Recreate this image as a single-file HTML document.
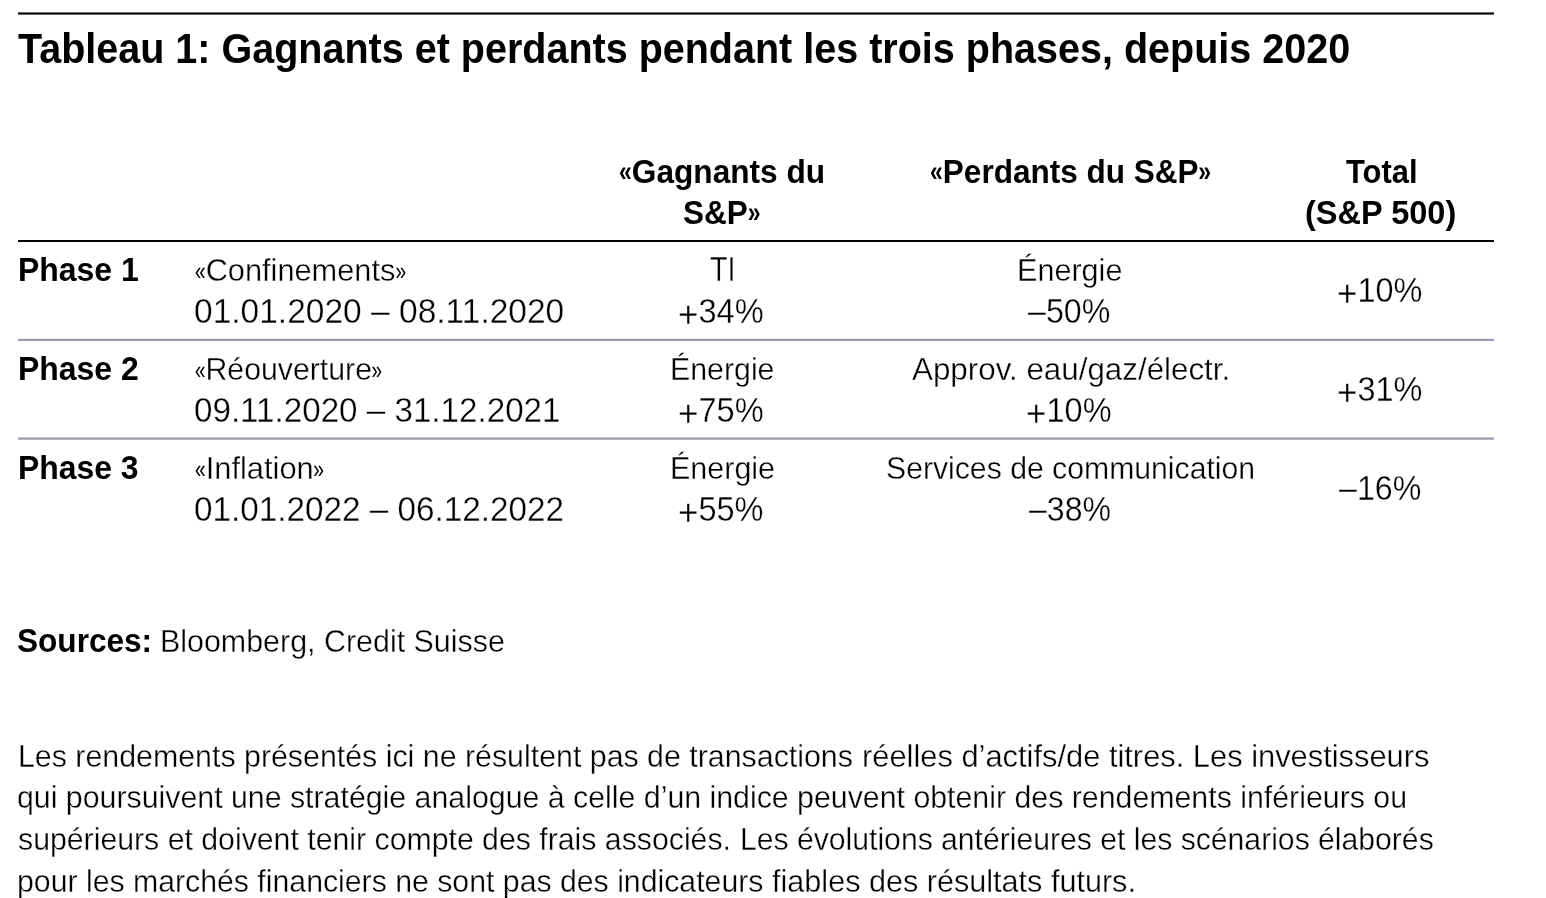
<!DOCTYPE html>
<html lang="fr">
<head>
<meta charset="utf-8">
<title>Tableau 1: Gagnants et perdants pendant les trois phases, depuis 2020</title>
<style>
html,body{margin:0;padding:0;background:#fff;}
body{width:1546px;height:898px;position:relative;overflow:hidden;font-family:"Liberation Sans",Arial,Helvetica,sans-serif;color:#000;}
.t{position:absolute;margin:0;padding:0;white-space:nowrap;line-height:1;font-weight:400;transform-origin:0 0;-webkit-text-stroke:0.35px #fff;}
.b,.t b{font-weight:700;-webkit-text-stroke:0;}
.g,.gb{display:inline-block;position:relative;-webkit-text-stroke:0;}
.g{font-size:.83em;top:-1.2px;transform:scaleX(.75);}
.gb{font-size:.88em;top:-1.7px;transform:scaleX(.83);}
.gl{transform-origin:0 50%;}
.gr{transform-origin:100% 50%;}
.g.gl{margin-right:-.139em;}
.g.gr{margin-left:-.139em;}
.gb.gl{margin-right:-.0945em;}
.gb.gr{margin-left:-.0945em;}
.pl{display:inline-block;position:relative;top:3.5px;font-size:1.08em;line-height:0;}
.rule{position:absolute;margin:0;border:0;padding:0;}
table,thead,tbody,tr,th,td,p{display:block;position:static;margin:0;padding:0;border:0;height:0;font-size:0;line-height:0;}
</style>
</head>
<body>
<hr class="rule" style="left:18px;width:1476px;top:12px;height:3px;background:linear-gradient(to bottom,#737373 0px,#737373 1px,#000 1px,#000 2px,#666666 2px,#666666 3px);">
<hr class="rule" style="left:18px;width:1476px;top:240px;height:2px;background:linear-gradient(to bottom,#000 0px,#000 1px,#000 1px,#000 2px);">
<hr class="rule" style="left:18px;width:1476px;top:338px;height:3px;background:linear-gradient(to bottom,#eaeaee 0px,#eaeaee 1px,#9898a8 1px,#9898a8 2px,#9d9dac 2px,#9d9dac 3px);">
<hr class="rule" style="left:18px;width:1476px;top:437px;height:3px;background:linear-gradient(to bottom,#c6c6cf 0px,#c6c6cf 1px,#9898a8 1px,#9898a8 2px,#b7b7c2 2px,#b7b7c2 3px);">
<h1 id="title" class="t b" style="left:17.55px;top:26.50px;font-size:43px;transform:scaleX(0.9189);">Tableau 1: Gagnants et perdants pendant les trois phases, depuis 2020</h1>
<table>
<thead>
<tr><th></th><th></th><th scope="col"><span id="h1a" class="t b" style="left:619.40px;top:155.00px;font-size:33px;transform:scaleX(0.9580);"><span class="gb gl">«</span>Gagnants du</span> <span id="h1b" class="t b" style="left:682.73px;top:196.00px;font-size:33px;transform:scaleX(0.9548);">S&amp;P<span class="gb gr">»</span></span></th><th scope="col"><span id="h2a" class="t b" style="left:929.95px;top:155.00px;font-size:33px;transform:scaleX(0.9555);"><span class="gb gl">«</span>Perdants du S&amp;P<span class="gb gr">»</span></span></th><th scope="col"><span id="h3a" class="t b" style="left:1345.82px;top:155.00px;font-size:33px;transform:scaleX(0.9370);">Total</span> <span id="h3b" class="t b" style="left:1305.40px;top:196.00px;font-size:33px;transform:scaleX(0.9855);">(S&amp;P 500)</span></th></tr>
</thead>
<tbody>
<tr><th scope="row"><span id="p1" class="t b" style="left:17.86px;top:253.00px;font-size:33px;transform:scaleX(0.9680);">Phase 1</span></th><td><span id="r1a" class="t" style="left:195.10px;top:254.00px;font-size:32px;transform:scaleX(0.9607);"><span class="g gl">«</span>Confinements<span class="g gr">»</span></span> <span id="r1b" class="t" style="left:194.08px;top:293.00px;font-size:35px;transform:scaleX(0.9576);">01.01.2020 – 08.11.2020</span></td><td><span id="r1c" class="t" style="left:710.16px;top:251.00px;font-size:35px;transform:scaleX(0.8222);">TI</span> <span id="r1d" class="t" style="left:678.17px;top:293.00px;font-size:35px;transform:scaleX(0.9294);"><span class="pl">+</span>34%</span></td><td><span id="r1e" class="t" style="left:1017.05px;top:254.00px;font-size:32px;transform:scaleX(0.9555);">Énergie</span> <span id="r1f" class="t" style="left:1028.16px;top:293.00px;font-size:35px;transform:scaleX(0.9190);">–50%</span></td><td><span id="r1g" class="t" style="left:1337.14px;top:272.00px;font-size:35px;transform:scaleX(0.9265);"><span class="pl">+</span>10%</span></td></tr>
<tr><th scope="row"><span id="p2" class="t b" style="left:17.86px;top:352.00px;font-size:33px;transform:scaleX(0.9680);">Phase 2</span></th><td><span id="r2a" class="t" style="left:195.13px;top:353.00px;font-size:32px;transform:scaleX(0.9456);"><span class="g gl">«</span>Réouverture<span class="g gr">»</span></span> <span id="r2b" class="t" style="left:194.32px;top:392.00px;font-size:35px;transform:scaleX(0.9478);">09.11.2020 – 31.12.2021</span></td><td><span id="r2c" class="t" style="left:669.88px;top:353.00px;font-size:32px;transform:scaleX(0.9472);">Énergie</span> <span id="r2d" class="t" style="left:678.17px;top:392.00px;font-size:35px;transform:scaleX(0.9294);"><span class="pl">+</span>75%</span></td><td><span id="r2e" class="t" style="left:912.16px;top:353.00px;font-size:32px;transform:scaleX(0.9794);">Approv. eau/gaz/électr.</span> <span id="r2f" class="t" style="left:1026.26px;top:392.00px;font-size:35px;transform:scaleX(0.9282);"><span class="pl">+</span>10%</span></td><td><span id="r2g" class="t" style="left:1337.14px;top:371.00px;font-size:35px;transform:scaleX(0.9265);"><span class="pl">+</span>31%</span></td></tr>
<tr><th scope="row"><span id="p3" class="t b" style="left:17.86px;top:451.00px;font-size:33px;transform:scaleX(0.9669);">Phase 3</span></th><td><span id="r3a" class="t" style="left:195.09px;top:452.00px;font-size:32px;transform:scaleX(0.9643);"><span class="g gl">«</span>Inflation<span class="g gr">»</span></span> <span id="r3b" class="t" style="left:193.93px;top:491.00px;font-size:35px;transform:scaleX(0.9508);">01.01.2022 – 06.12.2022</span></td><td><span id="r3c" class="t" style="left:669.76px;top:452.00px;font-size:32px;transform:scaleX(0.9525);">Énergie</span> <span id="r3d" class="t" style="left:677.75px;top:491.00px;font-size:35px;transform:scaleX(0.9274);"><span class="pl">+</span>55%</span></td><td><span id="r3e" class="t" style="left:886.18px;top:452.00px;font-size:32px;transform:scaleX(0.9434);">Services de communication</span> <span id="r3f" class="t" style="left:1028.65px;top:491.00px;font-size:35px;transform:scaleX(0.9157);">–38%</span></td><td><span id="r3g" class="t" style="left:1339.16px;top:470.00px;font-size:35px;transform:scaleX(0.9190);">–16%</span></td></tr>
</tbody>
</table>
<p class="src"><b id="src" class="t b" style="left:16.81px;top:624.00px;font-size:33px;transform:scaleX(0.9569);">Sources:</b> <span id="srcb" class="t" style="left:160.23px;top:625.00px;font-size:32px;transform:scaleX(0.9504);">Bloomberg, Credit Suisse</span></p>
<p class="note"><span id="d1" class="t" style="left:17.71px;top:740.00px;font-size:32px;transform:scaleX(0.9482);">Les rendements présentés ici ne résultent pas de transactions</span> <span id="d1b" class="t" style="left:861.64px;top:740.00px;font-size:32px;transform:scaleX(0.9639);">réelles d’actifs/de titres. Les investisseurs</span>
<span id="d2" class="t" style="left:17.14px;top:781.00px;font-size:32px;transform:scaleX(0.9471);">qui poursuivent une stratégie analogue à celle d’un indice peuvent obtenir des rendements inférieurs ou</span>
<span id="d3" class="t" style="left:18.03px;top:823.00px;font-size:32px;transform:scaleX(0.9454);">supérieurs et doivent tenir compte des frais associés.</span> <span id="d3b" class="t" style="left:739.94px;top:823.00px;font-size:32px;transform:scaleX(0.9420);">Les évolutions antérieures et les scénarios élaborés</span>
<span id="d4" class="t" style="left:17.29px;top:865.00px;font-size:32px;transform:scaleX(0.9451);">pour les marchés financiers ne sont pas des indicateurs</span> <span id="d4b" class="t" style="left:771.89px;top:865.00px;font-size:32px;transform:scaleX(0.9561);">fiables des résultats futurs.</span></p>
</body>
</html>
